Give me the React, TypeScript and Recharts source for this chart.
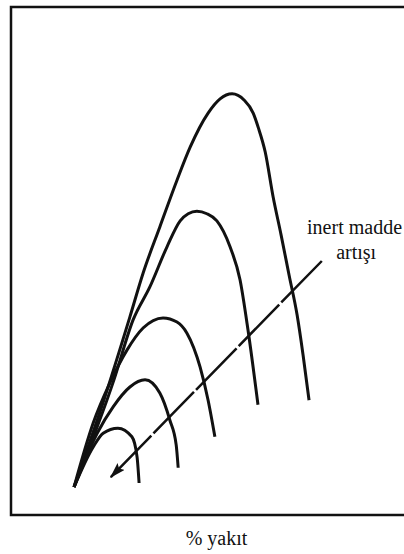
import React from 'react';
import { LineChart, Line, XAxis, YAxis, ReferenceArea, ReferenceDot, Label } from 'recharts';

// % yakıt (x) vs. alev hızı (y) in 0..100 units
const curve1 = [
  { x: 15.8, y: 5.5 }, { x: 23.1, y: 22.2 }, { x: 29.8, y: 39.0 }, { x: 33.1, y: 47.6 },
  { x: 37.3, y: 56.7 }, { x: 41.6, y: 65.9 }, { x: 44.9, y: 72.4 }, { x: 49.4, y: 79.1 },
  { x: 52.4, y: 81.9 }, { x: 55.4, y: 82.9 }, { x: 58.4, y: 81.7 }, { x: 60.7, y: 79.1 },
  { x: 62.0, y: 76.2 }, { x: 63.7, y: 71.5 }, { x: 65.7, y: 62.6 }, { x: 67.7, y: 55.1 },
  { x: 69.7, y: 47.2 }, { x: 71.7, y: 39.4 }, { x: 73.2, y: 31.5 }, { x: 74.7, y: 22.6 },
];
const curve2 = [
  { x: 15.8, y: 5.5 }, { x: 25.8, y: 26.6 }, { x: 30.6, y: 38.4 }, { x: 34.8, y: 44.9 },
  { x: 39.1, y: 52.8 }, { x: 42.4, y: 57.9 }, { x: 44.4, y: 59.3 }, { x: 46.6, y: 59.8 },
  { x: 49.1, y: 59.3 }, { x: 51.6, y: 57.9 }, { x: 54.9, y: 52.8 }, { x: 57.4, y: 46.3 },
  { x: 59.4, y: 36.4 }, { x: 61.9, y: 21.7 },
];
const curve3 = [
  { x: 15.8, y: 5.5 }, { x: 20.6, y: 18.1 }, { x: 24.8, y: 26.0 }, { x: 29.1, y: 32.5 },
  { x: 33.1, y: 36.8 }, { x: 38.1, y: 38.8 }, { x: 41.6, y: 38.0 }, { x: 44.1, y: 35.8 },
  { x: 47.4, y: 29.1 }, { x: 49.4, y: 22.6 }, { x: 51.1, y: 15.4 },
];
const curve4 = [
  { x: 15.8, y: 5.5 }, { x: 21.6, y: 16.1 }, { x: 25.6, y: 21.3 }, { x: 29.8, y: 25.2 },
  { x: 33.6, y: 26.6 }, { x: 37.3, y: 24.0 }, { x: 39.8, y: 18.7 }, { x: 41.4, y: 13.8 },
  { x: 41.9, y: 9.3 },
];
const curve5 = [
  { x: 15.8, y: 5.5 }, { x: 20.6, y: 13.4 }, { x: 23.1, y: 16.1 }, { x: 26.8, y: 17.1 },
  { x: 30.3, y: 15.4 }, { x: 31.6, y: 11.4 }, { x: 32.1, y: 6.3 },
];
// inert madde artışı arrow, tail -> head
const arrow = [{ x: 77.9, y: 50.0 }, { x: 24.8, y: 7.3 }];

const curves = [curve1, curve2, curve3, curve4, curve5];
const ink = '#111';
const textStyle = { fontFamily: '"Liberation Serif", "DejaVu Serif", serif', fontSize: 20, fill: ink };

// text centred on the reference dot
const centred = (value: string) => (props: any) => {
  const vb = props.viewBox || {};
  const cx = vb.x + (vb.width || 0) / 2;
  const cy = vb.y + (vb.height || 0) / 2;
  return (
    <text x={cx} y={cy} dy="0.33em" textAnchor="middle" style={textStyle}>{value}</text>
  );
};

const axisTitle = (props: any) => {
  const vb = props.viewBox || {};
  return (
    <text x={vb.x + vb.width / 2 + 6} y={vb.y + vb.height - 9} textAnchor="middle" style={textStyle}>
      % yakıt
    </text>
  );
};

export default function App() {
  return (
    <div style={{ position: 'absolute', left: 0, top: 0, width: 404, height: 554, overflow: 'hidden', background: '#fff' }}>
      <svg width={0} height={0} style={{ position: 'absolute' }}>
        <defs>
          <marker id="arrowHead" markerUnits="userSpaceOnUse" markerWidth={17} markerHeight={10}
            refX={16} refY={5} orient="auto">
            <path d="M0,0 L16,5 L0,10 L3,5 Z" fill={ink} />
          </marker>
        </defs>
      </svg>
      <LineChart width={410} height={554} margin={{ top: 7, right: 0, bottom: 0, left: 11 }}>
        <XAxis type="number" dataKey="x" domain={[0, 100]} height={39}
          axisLine={false} tickLine={false} tick={false}>
          <Label content={axisTitle} />
        </XAxis>
        <YAxis type="number" dataKey="y" domain={[0, 100]} hide />
        <ReferenceArea x1={0} x2={100} y1={0} y2={100} fill="none" stroke={ink} strokeWidth={2.5} />
        {curves.map((c, i) => (
          <Line key={i} data={c} dataKey="y" type="monotone" stroke={ink} strokeWidth={3}
            dot={false} activeDot={false} isAnimationActive={false} />
        ))}
        <Line data={arrow} dataKey="y" type="linear" stroke={ink} strokeWidth={2.5}
          strokeDasharray="58 3" markerEnd="url(#arrowHead)"
          dot={false} activeDot={false} isAnimationActive={false} />
        <ReferenceDot x={86.1} y={56.7} r={0.01} fill="none" stroke="none">
          <Label content={centred('inert madde')} />
        </ReferenceDot>
        <ReferenceDot x={86.5} y={51.6} r={0.01} fill="none" stroke="none">
          <Label content={centred('artışı')} />
        </ReferenceDot>
      </LineChart>
    </div>
  );
}
